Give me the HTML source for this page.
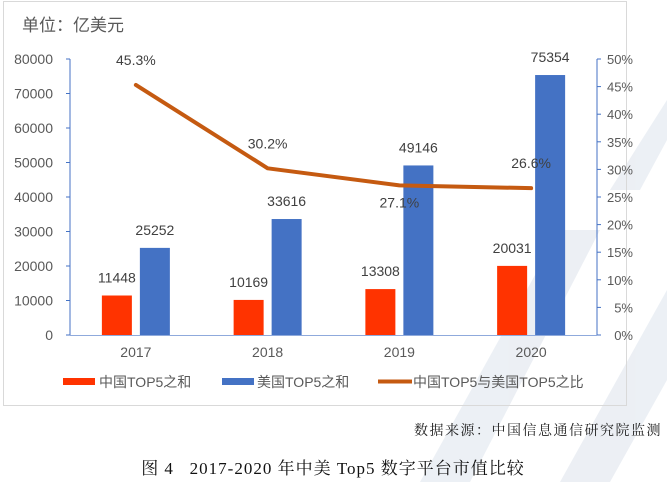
<!DOCTYPE html>
<html><head><meta charset="utf-8"><style>
body{margin:0;background:#fff;width:667px;height:482px;overflow:hidden;font-family:"Liberation Sans","Noto Sans CJK SC",sans-serif}
</style></head><body>
<svg width="667" height="482" xmlns="http://www.w3.org/2000/svg">
<g fill="#dde3ec" opacity="0.55">
<polygon points="420,482 470,482 600,230 560,230"/>
<polygon points="560,482 610,482 667,380 667,290"/>
<polygon points="610,190 640,190 667,140 667,100"/>
</g>
<rect x="3.5" y="1.5" width="623" height="404" fill="none" stroke="#d9d9d9"/>
<text x="22" y="31" font-size="17" fill="#595959">单位：亿美元</text>
<g id="axes"></g><g id="bars"></g><g id="line"></g>
<g font-size="14" fill="#595959">
<rect x="63" y="378" width="32" height="7" fill="#ff3300"/>
<text x="99" y="387">中国TOP5之和</text>
<rect x="222" y="378" width="32" height="7" fill="#4472c4"/>
<text x="257" y="387">美国TOP5之和</text>
<line x1="378" y1="381.5" x2="412" y2="381.5" stroke="#c55a11" stroke-width="4"/>
<text x="413" y="387">中国TOP5与美国TOP5之比</text>
</g>
<text x="662" y="435" text-anchor="end" font-size="14" fill="#222" letter-spacing="1.5" font-family="'Noto Serif CJK SC',serif">数据来源：中国信息通信研究院监测</text>
<text x="333" y="474" text-anchor="middle" font-size="17" fill="#111" letter-spacing="1" style="white-space:pre" font-family="'Liberation Serif','Noto Serif CJK SC',serif">图 4   2017-2020 年中美 Top5 数字平台市值比较</text>
</svg>
<script>
const categories=["2017","2018","2019","2020"];
const chinaValues=[11448,10169,13308,20031];
const usValues=[25252,33616,49146,75354];
const ratioValues=[45.3,30.2,27.1,26.6];
const leftTicks=[0,10000,20000,30000,40000,50000,60000,70000,80000];
const rightTicks=[0,5,10,15,20,25,30,35,40,45,50];
const NS="http://www.w3.org/2000/svg";
const X0=70,X1=597,Y0=335,Y1=59;
const yL=v=>Y0-(v/80000)*(Y0-Y1);
const yR=v=>Y0-(v/50)*(Y0-Y1);
const band=(X1-X0)/categories.length;
const xC=i=>X0+band*(i+0.5);
function mk(tag,attrs,parent,text){const e=document.createElementNS(NS,tag);for(const k in attrs)e.setAttribute(k,attrs[k]);if(text!==undefined)e.textContent=text;parent.appendChild(e);return e;}
const ax=document.getElementById('axes'),bg=document.getElementById('bars'),lg=document.getElementById('line');
let e;
e=mk('line',{x1:X0,y1:Y1,x2:X0,y2:Y0,stroke:'#4472c4','stroke-width':1},ax);

e=mk('line',{x1:X1,y1:Y1,x2:X1,y2:Y0,stroke:'#4472c4','stroke-width':1},ax);

e=mk('line',{x1:X0,y1:Y0+0.5,x2:X1,y2:Y0+0.5,stroke:'#8faadc','stroke-width':1},ax);

leftTicks.forEach(t=>{const y=yL(t);
 mk('line',{x1:X0-4,y1:y,x2:X0,y2:y,stroke:'#4472c4'},ax);
 e=mk('text',{x:53,y:y+5,'text-anchor':'end','font-size':14,fill:'#595959'},ax,String(t));
 });
rightTicks.forEach(t=>{const y=yR(t);
 mk('line',{x1:X1,y1:y,x2:X1+4,y2:y,stroke:'#4472c4'},ax);
 e=mk('text',{x:633,y:y+5,'text-anchor':'end','font-size':13,fill:'#595959'},ax,t+'%');
 });
categories.forEach((c,i)=>{
 e=mk('text',{x:xC(i),y:357,'text-anchor':'middle','font-size':14,fill:'#595959'},ax,c);
 
 const bw=30;
 const xr=xC(i)-34,xb=xC(i)+4;
 e=mk('rect',{x:xr,y:yL(chinaValues[i]),width:bw,height:Y0-yL(chinaValues[i]),fill:'#ff3300'},bg);
 
 e=mk('rect',{x:xb,y:yL(usValues[i]),width:bw,height:Y0-yL(usValues[i]),fill:'#4472c4'},bg);
 
 e=mk('text',{x:xr+bw/2,y:yL(chinaValues[i])-13,'text-anchor':'middle','font-size':14,fill:'#404040'},bg,String(chinaValues[i]));
 
 e=mk('text',{x:xb+bw/2,y:yL(usValues[i])-13,'text-anchor':'middle','font-size':14,fill:'#404040'},bg,String(usValues[i]));
 
});
e=mk('polyline',{points:ratioValues.map((v,i)=>xC(i)+','+yR(v)).join(' '),fill:'none',stroke:'#c55a11','stroke-width':4,'stroke-linejoin':'round','stroke-linecap':'round'},lg);

const lblOff=[-20,-20,22,-20];
ratioValues.forEach((v,i)=>{
 e=mk('text',{x:xC(i),y:yR(v)+lblOff[i],'text-anchor':'middle','font-size':14,fill:'#404040'},lg,v.toFixed(1)+'%');
 
});
</script>
</body></html>
